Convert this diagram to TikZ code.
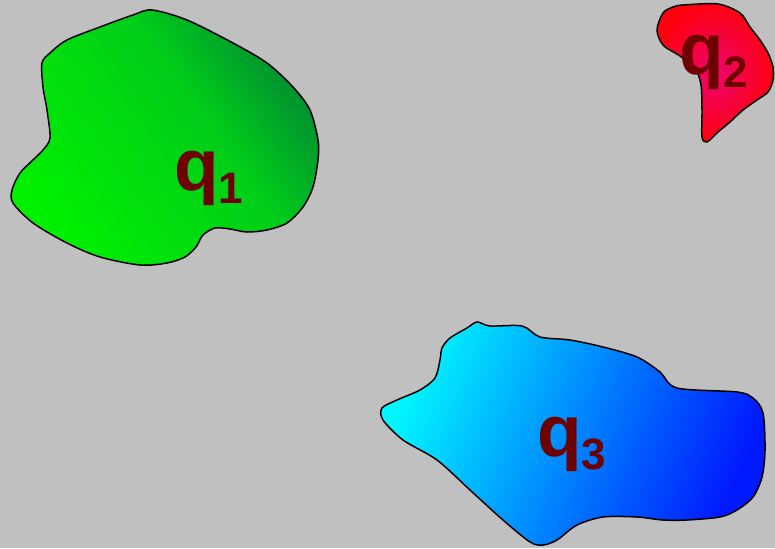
\documentclass[tikz,border=0pt]{standalone}
\usepackage{fontspec}
\setmainfont{Liberation Sans}
\definecolor{bg}{RGB}{192,192,192}
\definecolor{lblred}{RGB}{110,0,0}
\definecolor{gleft}{RGB}{0,240,0}
\definecolor{gmid}{RGB}{0,205,25}
\definecolor{gright}{RGB}{0,140,50}
\definecolor{cyanl}{RGB}{0,245,255}
\definecolor{bluem}{RGB}{0,150,255}
\definecolor{blued}{RGB}{0,25,255}
\definecolor{redin}{RGB}{235,5,110}
\definecolor{redout}{RGB}{255,0,15}
\pgfdeclarehorizontalshading{greensh}{100bp}{color(0bp)=(gleft); color(25bp)=(gleft); color(58bp)=(gmid); color(75bp)=(gright); color(100bp)=(gright)}
\tikzset{
  blob/.style={draw=black, line width=1.5pt},
  lbl/.style={anchor=base west, inner sep=0pt, text=lblred, font=\bfseries\fontsize{73}{73}\selectfont}
}
\newcommand{\subq}[1]{\raisebox{-13pt}{\fontsize{44}{44}\selectfont #1}}
\begin{document}
\begin{tikzpicture}[x=1pt,y=-1pt]
\useasboundingbox (0,0) rectangle (775,548);
\fill[bg] (0,0) rectangle (775,548);
% green region
\shade[blob, shading=greensh, shading angle=35]
  plot[smooth cycle, tension=0.5] coordinates {
  (152,10) (187,20) (233,43) (267,63) (293,87) (310,110) (318,140) (318,160)
  (313,187) (303,207) (287,223) (267,230) (247,232) (230,229) (215,228)
  (203,235) (196,247) (185,257) (167,263) (140,265) (100,257) (67,243)
  (33,223) (13,203) (12,190) (20,173) (33,160) (43,150) (50,138) (47,110)
  (43,87) (42,63) (50,53) (67,40) (100,27) (133,15)};
% red region
\shade[blob, inner color=redin, outer color=redout]
  plot[smooth cycle, tension=0.5] coordinates {
  (683,5) (718,4) (740,13) (750,27) (760,40) (768,53) (773,67) (773,80)
  (768,92) (757,100) (743,110) (730,122) (718,132) (707,142) (702,137)
  (702,110) (701,85) (695,68) (680,56) (663,45) (657,30) (663,13) (673,7)};
% blue region
\shade[blob, left color=cyanl, middle color=bluem, right color=blued, shading angle=68]
  plot[smooth cycle, tension=0.5] coordinates {
  (477,322) (490,326) (522,326) (540,337) (570,340) (603,347) (637,357)
  (660,372) (677,388) (737,392) (753,398) (763,413) (765,450) (762,477)
  (753,497) (737,510) (720,517) (687,520) (663,520) (637,517) (603,517)
  (577,525) (557,540) (543,545) (530,542) (503,520) (470,490) (437,460)
  (403,440) (383,420) (382,408) (397,400) (420,390) (435,378) (440,360)
  (442,348) (450,338) (467,328)};
% labels
\node[lbl] (q1) at (174,190) {q\subq{1}};
\node[lbl] (q2) at (679,75) {q\subq{2}};
\node[lbl] (q3) at (537,456) {q\subq{3}};
\end{tikzpicture}
\end{document}
